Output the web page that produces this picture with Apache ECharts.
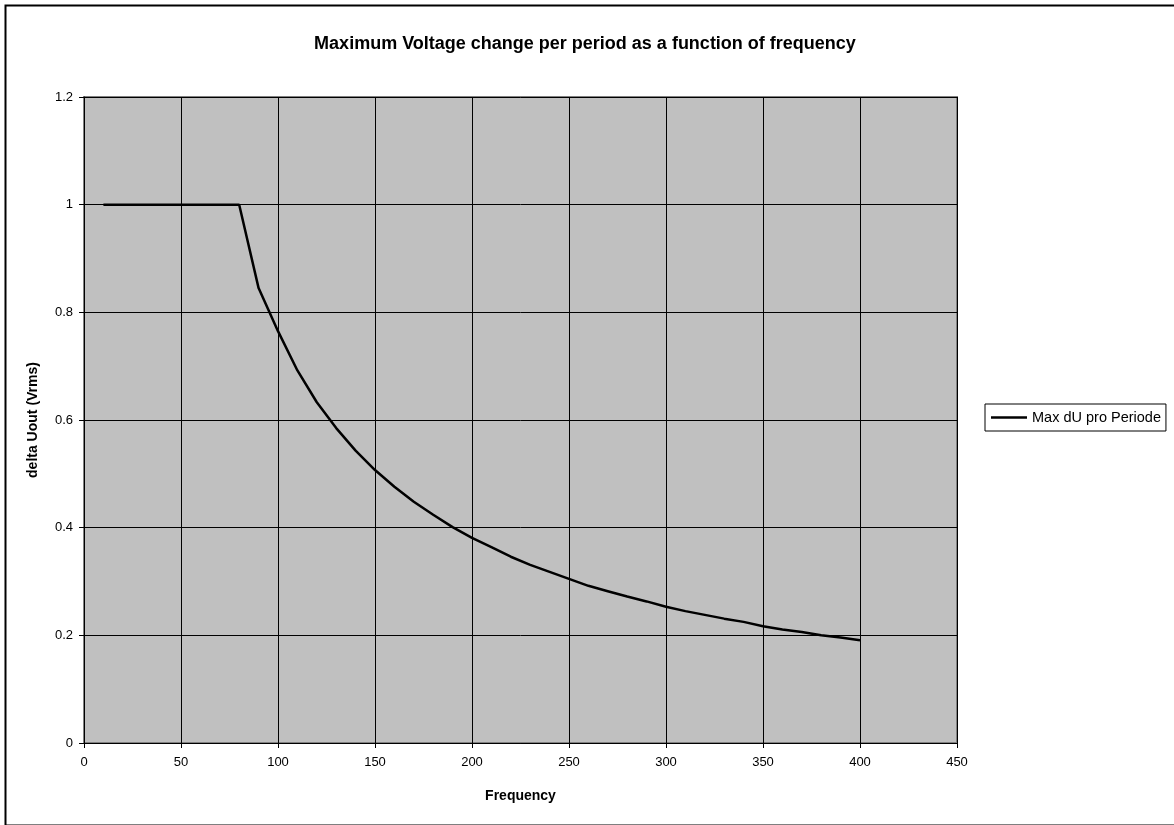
<!DOCTYPE html>
<html>
<head>
<meta charset="utf-8">
<script src="https://cdn.jsdelivr.net/npm/echarts@6/dist/echarts.min.js"></script>
<style>
html,body{margin:0;padding:0;background:#fff;}
#chart{width:1174px;height:825px;}
</style>
</head>
<body>
<div id="chart"></div>
<script>
const frequency = [10,20,30,40,50,60,70,80,90,100,110,120,130,140,150,160,170,180,190,200,210,220,230,240,250,260,270,280,290,300,310,320,330,340,350,360,370,380,390,400];
const maxDU = [1,1,1,1,1,1,1,1,0.845,0.765,0.692,0.633,0.585,0.543,0.507,0.476,0.448,0.424,0.401,0.381,0.364,0.346,0.331,0.318,0.305,0.292,0.282,0.272,0.263,0.253,0.245,0.238,0.231,0.225,0.217,0.211,0.206,0.200,0.196,0.191];
const seriesName = 'Max dU pro Periode';
const titleText = 'Maximum Voltage change per period as a function of frequency';
const xName = 'Frequency';
const yName = 'delta Uout (Vrms)';

const chart = echarts.init(document.getElementById('chart'));
const FONT = '"Liberation Sans", Arial, sans-serif';
chart.setOption({
  animation: false,
  backgroundColor: '#fff',
  graphic: [{
    type: 'rect', left: 3, top: 3, silent: true,
    shape: { width: 1220, height: 820 },
    style: { fill: 'none', stroke: '#000', lineWidth: 2 }
  }],
  title: {
    text: titleText, left: 580, top: 30, textAlign: 'center',
    textStyle: { fontFamily: FONT, fontSize: 18, fontWeight: 'bold', color: '#000' }
  },
  legend: {
    left: 985, top: 404, orient: 'vertical',
    backgroundColor: '#fff', borderColor: '#000', borderWidth: 1,
    padding: [6, 5, 6, 6], itemWidth: 36, itemHeight: 13, itemGap: 5,
    textStyle: { fontFamily: FONT, fontSize: 14.5, color: '#000' },
    data: [{ name: seriesName, icon: 'path://M0,0L36,0L36,2.5L0,2.5Z', itemStyle: { color: '#000' } }]
  },
  grid: {
    left: 84, right: 217, top: 97, bottom: 82,
    show: true, backgroundColor: '#c0c0c0', borderColor: '#808080', borderWidth: 2
  },
  xAxis: {
    type: 'value', min: 0, max: 450, interval: 50,
    name: xName, nameLocation: 'middle', nameGap: 46,
    nameTextStyle: { fontFamily: FONT, fontSize: 14, fontWeight: 'bold', color: '#000' },
    axisLine: { show: true, lineStyle: { color: '#000', width: 1 } },
    axisTick: { show: true, inside: false, length: 5, lineStyle: { color: '#000' } },
    axisLabel: { fontFamily: FONT, fontSize: 13, color: '#000', margin: 13 },
    splitLine: { show: true, lineStyle: { color: '#000', width: 1 } }
  },
  yAxis: {
    type: 'value', min: 0, max: 1.2, interval: 0.2,
    name: yName, nameLocation: 'middle', nameGap: 44, nameRotate: 90,
    nameTextStyle: { fontFamily: FONT, fontSize: 14, fontWeight: 'bold', color: '#000' },
    axisLine: { show: true, lineStyle: { color: '#000', width: 1 } },
    axisTick: { show: true, inside: false, length: 5, lineStyle: { color: '#000' } },
    axisLabel: { fontFamily: FONT, fontSize: 13, color: '#000', margin: 11,
      formatter: v => String(Math.round(v * 10) / 10) },
    splitLine: { show: true, lineStyle: { color: '#000', width: 1 } }
  },
  series: [{
    name: seriesName, type: 'line', symbol: 'none',
    data: frequency.map((f, i) => [f, maxDU[i]]),
    lineStyle: { color: '#000', width: 2.5 },
    itemStyle: { color: '#000' }
  }]
});
</script>
</body>
</html>
